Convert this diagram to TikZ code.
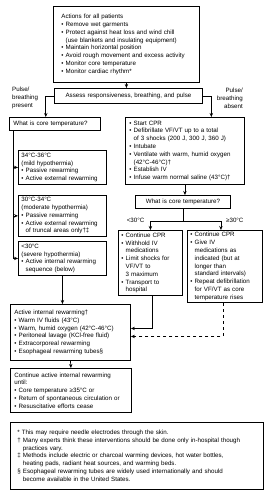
\documentclass[tikz,border=0pt]{standalone}
\usepackage{fontspec}
\setmainfont{Liberation Sans}
\usepackage{tikz}
\usetikzlibrary{calc, positioning, arrows.meta}

\newcommand{\bul}{\textbullet\ }
\newcommand{\indt}{\phantom{\textbullet\ }}

\begin{document}
\begin{tikzpicture}[
  x=1pt, y=-1pt,
  >={Stealth[length=4pt, width=3.4pt]},
  stepbox/.style={draw, line width=0.9pt, anchor=north west, align=left,
                  font=\fontsize{6.2}{7.8}\selectfont, inner xsep=4pt,
                  inner ysep=2pt, text width=#1},
  lbl/.style={font=\fontsize{6.2}{7.8}\selectfont, inner sep=0pt},
  conn/.style={line width=0.7pt}
]
\useasboundingbox (0,0) rectangle (265,491);

% ---------- Actions for all patients ----------
\node[stepbox=130pt, inner xsep=8pt, minimum height=76pt] (actions) at (53,6) {
  Actions for all patients\\
  \bul Remove wet garments\\
  \bul Protect against heat loss and wind chill\\
  \indt (use blankets and insulating equipment)\\
  \bul Maintain horizontal position\\
  \bul Avoid rough movement and excess activity\\
  \bul Monitor core temperature\\
  \bul Monitor cardiac rhythm*};

\node[stepbox=140pt, align=center, minimum height=15pt] (assess) at (54,88)
  {Assess responsiveness, breathing, and pulse};

% ---------- Pulse/breathing present (left) ----------
\node[lbl, anchor=north west, align=left] (present) at (12,87)
  {Pulse/\\breathing\\present};
\node[stepbox=83pt, minimum height=13pt] (tempL) at (9,117)
  {What is core temperature?};

\node[stepbox=82pt, inner xsep=3pt, minimum height=34pt] (mild) at (18,150) {
  34°C-36°C\\
  (mild hypothermia)\\
  \bul Passive rewarming\\
  \bul Active external rewarming};
\node[stepbox=82pt, inner xsep=3pt, minimum height=39pt] (moder) at (18,195) {
  30°C-34°C\\
  (moderate hypothermia)\\
  \bul Passive rewarming\\
  \bul Active external rewarming\\
  \indt of truncal areas only†‡};
\node[stepbox=82pt, inner xsep=3pt, minimum height=34pt] (severe) at (18,241) {
  <30°C\\
  (severe hypothermia)\\
  \bul Active internal rewarming\\
  \indt sequence (below)};

% ---------- Pulse/breathing absent (right) ----------
\node[lbl, anchor=north east, align=right] (absent) at (243,88)
  {Pulse/\\breathing\\absent};
\node[stepbox=111pt, minimum height=67pt] (cpr) at (125,117) {
  \bul Start CPR\\
  \bul Defibrillate VF/VT up to a total\\
  \indt of 3 shocks (200 J, 300 J, 360 J)\\
  \bul Intubate\\
  \bul Ventilate with warm, humid oxygen\\
  \indt (42°C-46°C)†\\
  \bul Establish IV\\
  \bul Infuse warm normal saline (43°C)†};
\node[stepbox=87pt, align=center, minimum height=13pt] (tempR) at (135,195)
  {What is core temperature?};

\node[stepbox=58pt, inner xsep=3pt, minimum height=65pt] (lt30) at (118,230) {
  \bul Continue CPR\\
  \bul Withhold IV\\
  \indt medications\\
  \bul Limit shocks for\\
  \indt VF/VT to\\
  \indt 3 maximum\\
  \bul Transport to\\
  \indt hospital};
\node[stepbox=69pt, inner xsep=3pt, minimum height=72pt] (ge30) at (187,230) {
  \bul Continue CPR\\
  \bul Give IV\\
  \indt medications as\\
  \indt indicated (but at\\
  \indt longer than\\
  \indt standard intervals)\\
  \bul Repeat defibrillation\\
  \indt for VF/VT as core\\
  \indt temperature rises};

% ---------- Active internal rewarming ----------
\node[stepbox=112pt, minimum height=56pt] (airw) at (10,304) {
  Active internal rewarming†\\
  \bul Warm IV fluids (43°C)\\
  \bul Warm, humid oxygen (42°C-46°C)\\
  \bul Peritoneal lavage (KCl-free fluid)\\
  \bul Extracorporeal rewarming\\
  \bul Esophageal rewarming tubes§};
\node[stepbox=113pt, minimum height=44pt] (cont) at (10,368) {
  Continue active internal rewarming\\
  until:\\
  \bul Core temperature ≥35°C or\\
  \bul Return of spontaneous circulation or\\
  \bul Resuscitative efforts cease};

% ---------- Footnotes ----------
\node[stepbox=239pt, inner xsep=7pt, minimum height=67pt] (notes) at (10,422) {
  *\hspace{2pt}This may require needle electrodes through the skin.\\
  † Many experts think these interventions should be done only in-hospital though\\
  \phantom{† }practices vary.\\
  ‡ Methods include electric or charcoal warming devices, hot water bottles,\\
  \phantom{‡ }heating pads, radiant heat sources, and warming beds.\\
  § Esophageal rewarming tubes are widely used internationally and should\\
  \phantom{§ }become available in the United States.};

% ---------- Connectors ----------
\draw[conn, ->] (actions.south) -- (actions.south |- assess.north);
\draw[conn, ->] (assess.west) -| ($(tempL.north west)!0.4!(tempL.north east)$);
\draw[conn, ->] (assess.east) -| ($(cpr.north west)!0.72!(cpr.north east)$);

% tronc gauche vers les trois boites
\coordinate (trunkL) at ([xshift=4pt]tempL.south west);
\draw[conn, ->] (trunkL) |- (severe.west);
\draw[conn, ->] (trunkL |- mild.west) -- (mild.west);
\draw[conn, ->] (trunkL |- moder.west) -- (moder.west);
\draw[conn, ->] (severe.south) -- (severe.south |- airw.north);

% branche droite
\draw[conn, ->] (cpr.south) -- (cpr.south |- tempR.north);
\draw[conn] (tempR.south) -- ++(0,12) coordinate (splitR);
\coordinate (geTop) at ([xshift=-4pt]ge30.north);
\draw[conn, ->] (splitR) -| (lt30.north);
\draw[conn, ->] (splitR) -| (geTop);
\node[lbl, anchor=east] (lblLo) at ([xshift=-6pt, yshift=1pt]splitR -| lt30.north) {<30°C};
\node[lbl, anchor=west] (lblHi) at ([xshift=5pt, yshift=1pt]splitR -| geTop) {≥30°C};

\draw[conn, ->] ([xshift=2pt]lt30.south) |- ([yshift=4pt]airw.east);
\draw[conn, ->, dashed] ([xshift=-2pt]ge30.south) |- ([yshift=-4pt]airw.east);
\draw[conn, ->] (airw.south) -- (cont.north);

\end{tikzpicture}
\end{document}
